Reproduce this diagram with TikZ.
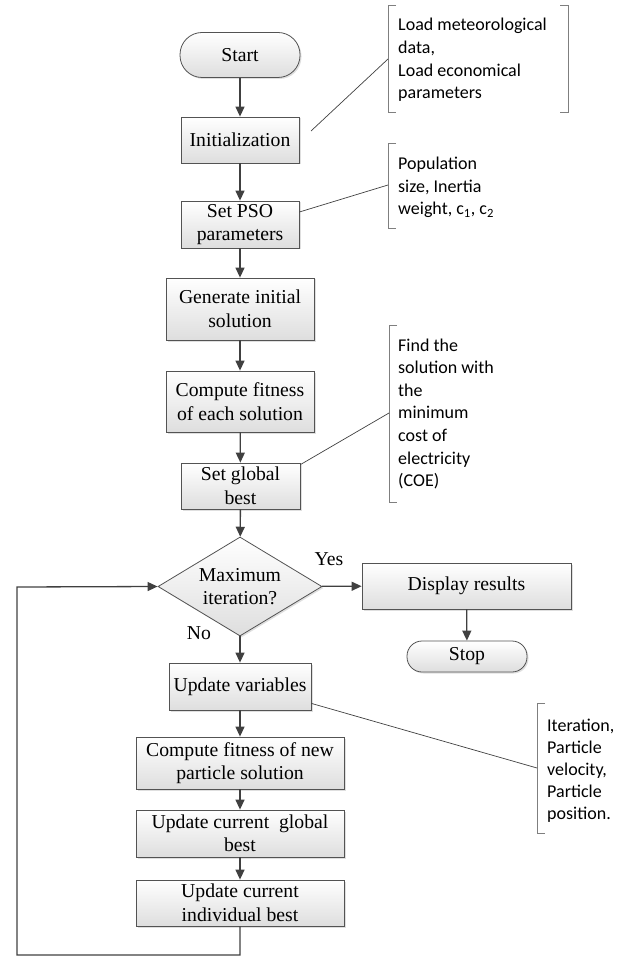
\documentclass[tikz,border=0pt]{standalone}
\usepackage{fontspec}
\setmainfont{Liberation Serif}
\newfontfamily\calib{Carlito}
\usetikzlibrary{arrows.meta,shapes.geometric,shadows,calc}
\definecolor{edgec}{HTML}{404040}
\definecolor{brk}{HTML}{7F7F7F}
\begin{document}
\begin{tikzpicture}[x=1pt,y=-1pt,
  box/.style={draw=edgec!90, line width=0.8pt, top color=white, bottom color=black!13,
    drop shadow={shadow xshift=1.5pt,shadow yshift=-1.5pt,opacity=0.25},
    align=center, inner sep=1pt, font=\fontsize{19.7}{23.5}\selectfont},
  term/.style={box, rounded corners=#1},
  flow/.style={draw=edgec, line width=1.3pt, -{Triangle[length=10pt,width=9pt]}},
  note/.style={align=left, inner sep=0pt, anchor=base west, font=\calib\fontsize{18}{22.6}\selectfont},
  bracket/.style={draw=brk, line width=0.8pt},
  link/.style={draw=edgec, line width=0.7pt},
  lbl/.style={font=\fontsize{19.7}{23.5}\selectfont, inner sep=0pt}
]
\useasboundingbox (0,0) rectangle (628,957);

% main flow
\node[term=22pt, minimum width=120pt, minimum height=45pt] (start) at (240,55) {Start};
\node[box, minimum width=118pt, minimum height=46pt] (init) at (240,140) {Initialization};
\node[box, minimum width=118pt, minimum height=47pt] (pso) at (240,224.5) {Set PSO\\parameters};
\node[box, minimum width=148pt, minimum height=62pt] (gen) at (240,309) {Generate initial\\solution};
\node[box, minimum width=148pt, minimum height=61pt] (fit) at (240,401.5) {Compute fitness\\of each solution};
\node[box, minimum width=119pt, minimum height=46pt] (setg) at (240.5,486) {Set global\\best};
\node[box, diamond, aspect=1.66, inner sep=0pt, minimum width=164pt, minimum height=99pt] (dec) at (240,586.5) {Maximum\\iteration?};
\node[box, minimum width=209pt, minimum height=46pt] (disp) at (466.5,586) {Display results};
\node[term=15pt, minimum width=120pt, minimum height=31pt] (stop) at (467,656.5) {Stop};
\node[box, minimum width=142pt, minimum height=47pt] (upd) at (240,686.5) {Update variables};
\node[box, minimum width=208pt, minimum height=52pt] (fitn) at (240,763) {Compute fitness of new\\particle solution};
\node[box, minimum width=208pt, minimum height=47pt] (ucg) at (240,833.5) {Update current~ global\\best};
\node[box, minimum width=208pt, minimum height=46pt] (uci) at (240,903) {Update current\\individual best};

\node[lbl] (yes) at (329,559) {Yes};
\node[lbl] (no) at (199,633) {No};

\draw[flow] (start) -- (init);
\draw[flow] (init) -- (pso);
\draw[flow] (pso) -- (gen);
\draw[flow] (gen) -- (fit);
\draw[flow] (fit) -- (setg);
\draw[flow] (setg) -- (dec);
\draw[flow] (dec) -- (disp);
\draw[flow] (disp) -- (stop);
\draw[flow] (dec) -- (upd);
\draw[flow] (upd) -- (fitn);
\draw[flow] (fitn) -- (ucg);
\draw[flow] (ucg) -- (uci);

\coordinate (lp1) at (240,955);
\coordinate (lp2) at (17,955);
\coordinate (lp3) at (17,587);
\draw[flow] (uci.south) -- (lp1) -- (lp2) -- (lp3) -- (dec.west);

% annotations (anchor = baseline of the last line)
\node[note] (n1) at (398,98.8) {Load meteorological\\data,\\Load economical\\parameters};
\node[note] (n2) at (398,215) {Population\\size, Inertia\\weight, c\textsubscript{1}, c\textsubscript{2}};
\node[note] (n3) at (398,486.6) {Find the\\solution with\\the\\minimum\\cost of\\electricity\\(COE)};
\node[note, font=\calib\fontsize{18}{22}\selectfont] (n4) at (547,819) {Iteration,\\Particle\\velocity,\\Particle\\position.};

\draw[bracket] (396,5) -- (388,5) -- (388,112) -- (396,112);
\draw[bracket] (560,5) -- (568,5) -- (568,112) -- (560,112);
\draw[bracket] (396,143) -- (388,143) -- (388,228) -- (396,228);
\draw[bracket] (397,325) -- (389,325) -- (389,502) -- (397,502);
\draw[bracket] (545,703) -- (537,703) -- (537,833) -- (545,833);

\coordinate (a1) at (311,131);
\coordinate (b1) at (388,59);
\coordinate (a2) at ($(pso.east)+(0,-12.5)$);
\coordinate (b2) at (388,185);
\coordinate (a3) at ($(setg.north east)+(0,2)$);
\coordinate (b3) at (389,413);
\coordinate (a4) at ($(upd.south east)+(0,-7)$);
\coordinate (b4) at (537,768);
\draw[link] (a1) -- (b1);
\draw[link] (a2) -- (b2);
\draw[link] (a3) -- (b3);
\draw[link] (a4) -- (b4);
\end{tikzpicture}
\end{document}
